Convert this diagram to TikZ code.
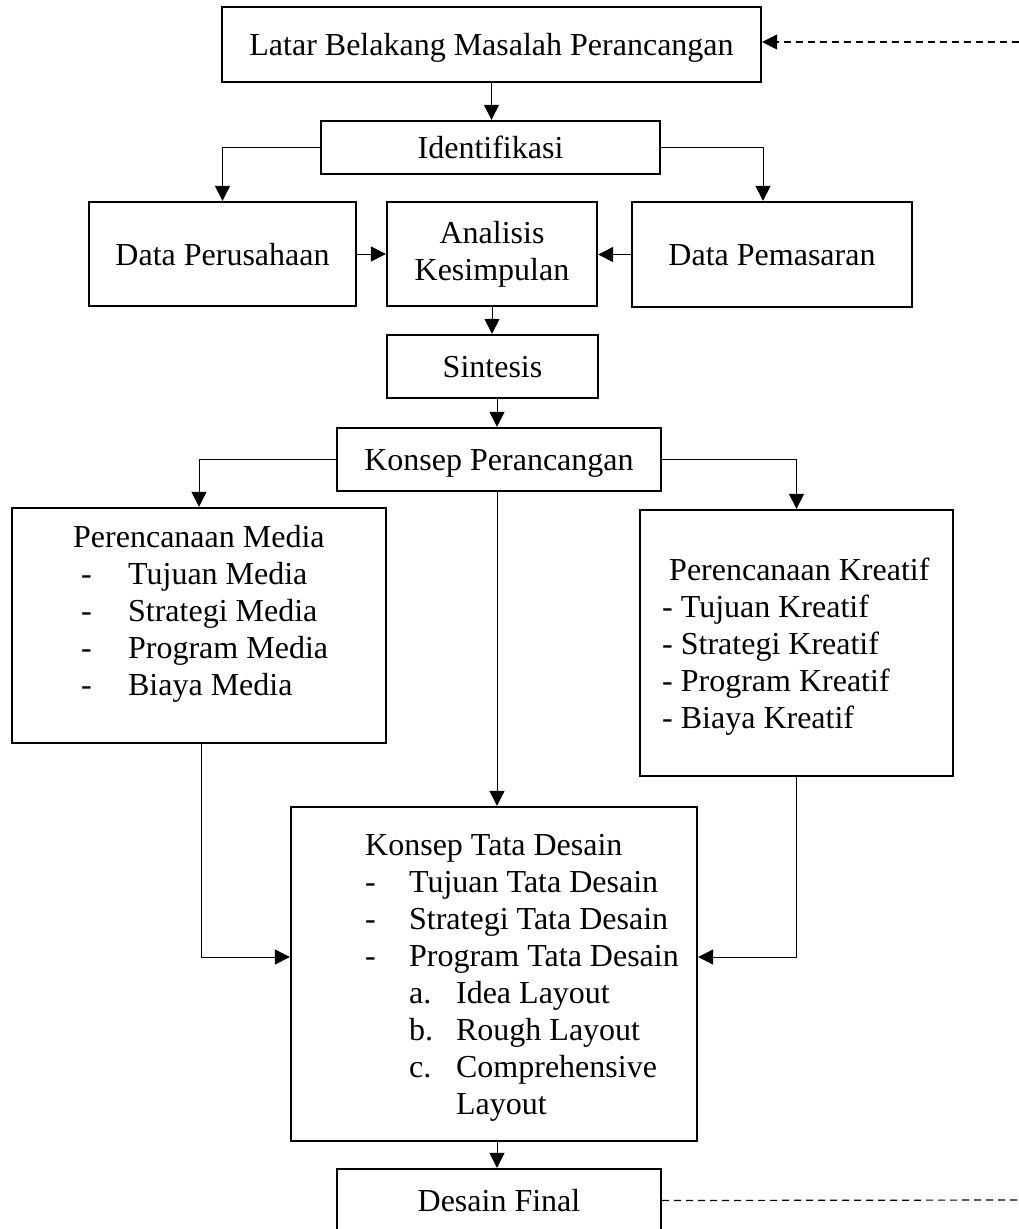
\documentclass[tikz,border=0pt]{standalone}
\usepackage{fontspec}
\setmainfont{Liberation Serif}
\usetikzlibrary{
    arrows.meta,
    positioning
}
\tikzset{
    box/.style={draw, line width=2.3pt, inner sep=0pt, align=center},
    oneline/.style={text height=22pt, text depth=0pt},
    conn/.style={line width=1pt, -{Triangle[length=15pt,width=15pt]}},
    back/.style={line width=1.2pt, dash pattern=on 7pt off 5pt}
}

\begin{document}
\begin{tikzpicture}[x=1pt, y=-1pt, font=\fontsize{32}{37}\selectfont]
    \useasboundingbox (0,0) rectangle (1019,1229);
    \clip (0,0) rectangle (1019,1229);
    % boxes
    \node[box, oneline, minimum width=539, minimum height=75] (latar) at (491.5,44.5) {Latar Belakang Masalah Perancangan};
    \node[box, oneline, minimum width=339, minimum height=53] (ident) at (490.5,147.5) {Identifikasi};
    \node[box, oneline, minimum width=267, minimum height=104] (dataPer) at (222.5,254) {Data Perusahaan};
    \node[box, minimum width=210, minimum height=104] (analisis) at (492,254) {Analisis\\Kesimpulan};
    \node[box, oneline, minimum width=280, minimum height=105] (dataPem) at (772,254.5) {Data Pemasaran};
    \node[box, oneline, minimum width=211, minimum height=63] (sintesis) at (492.5,366.5) {Sintesis};
    \node[box, oneline, minimum width=324, minimum height=63] (konsep) at (499,459.5) {Konsep Perancangan};
    \node[box, minimum width=374, minimum height=235] (media) at (199,625.5) {};
    \node[box, minimum width=313, minimum height=266] (kreatif) at (796.5,643) {};
    \node[box, minimum width=406, minimum height=334] (tata) at (494,974) {};
    \node[box, oneline, minimum width=324, minimum height=63] (final) at (499,1200.5) {Desain Final};
    % lists
    \node[anchor=base west, inner sep=0pt] (mediaTxt) at (73,547) {\begin{tabular}[t]{@{\hspace{8pt}}l@{\hspace{36.3pt}}l@{}}
        \multicolumn{2}{@{}l@{}}{Perencanaan Media}\\
        - & Tujuan Media\\
        - & Strategi Media\\
        - & Program Media\\
        - & Biaya Media
    \end{tabular}};
    \node[anchor=base west, inner sep=0pt] (kreatifTxt) at (662,580) {\begin{tabular}[t]{@{}l@{}}
        \hspace*{7pt}Perencanaan Kreatif\\
        - Tujuan Kreatif\\
        - Strategi Kreatif\\
        - Program Kreatif\\
        - Biaya Kreatif
    \end{tabular}};
    \node[anchor=base west, inner sep=0pt] (tataTxt) at (365,855) {\begin{tabular}[t]{@{}l@{\hspace{33.3pt}}l@{\hspace{23pt}}l@{}}
        \multicolumn{3}{@{}l@{}}{Konsep Tata Desain}\\
        - & \multicolumn{2}{@{}l@{}}{Tujuan Tata Desain}\\
        - & \multicolumn{2}{@{}l@{}}{Strategi Tata Desain}\\
        - & \multicolumn{2}{@{}l@{}}{Program Tata Desain}\\
          & a. & Idea Layout\\
          & b. & Rough Layout\\
          & c. & Comprehensive\\
          &    & Layout
    \end{tabular}};
    % arrows
    \draw[conn] (latar.south) -- (latar.south |- ident.north);
    \draw[conn] (ident.west) -| (dataPer.north);
    \draw[conn] (ident.east) -| ([xshift=-9pt]dataPem.north);
    \draw[conn] (dataPer.east) -- (dataPer.east -| analisis.west);
    \draw[conn] (dataPem.west) -- (dataPem.west -| analisis.east);
    \draw[conn] (analisis.south) -- (analisis.south |- sintesis.north);
    \draw[conn] ([xshift=4.5pt]sintesis.south) -- ([xshift=4.5pt]sintesis.south |- konsep.north);
    \draw[conn] (konsep.west) -| (media.north);
    \draw[conn] (konsep.east) -| (kreatif.north);
    \draw[conn] ([xshift=-2pt]konsep.south) -- ([xshift=-2pt]konsep.south |- tata.north);
    \coordinate (joinY) at (0,957);
    \draw[conn] ([xshift=2pt]media.south) |- (tata.west |- joinY);
    \draw[conn] (kreatif.south) |- (tata.east |- joinY);
    \draw[conn] ([xshift=3pt]tata.south) -- ([xshift=3pt]tata.south |- final.north);
    % feedback
    \coordinate (backTop) at (1019,42);
    \coordinate (backBot) at (1019,1200);
    \draw[back, -{Triangle[length=15pt,width=15pt]}] (backTop) -- (latar.east |- backTop);
    \draw[back] (final.east) -- (backBot);
\end{tikzpicture}
\end{document}
